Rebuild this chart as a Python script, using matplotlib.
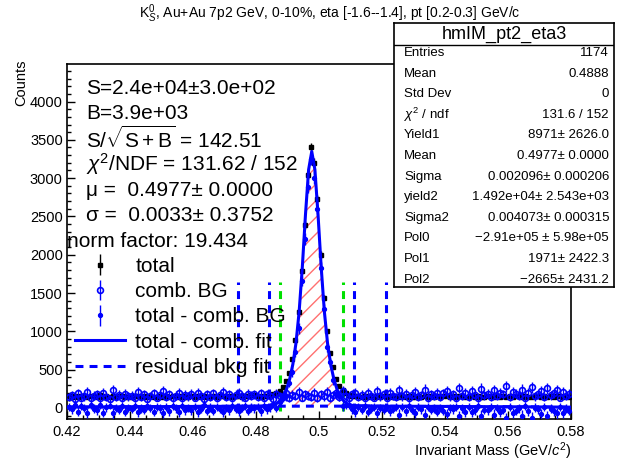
import numpy as np
import matplotlib
matplotlib.use('Agg')
import matplotlib.pyplot as plt

plt.rcParams['font.family'] = ['Liberation Sans', 'DejaVu Sans']
plt.rcParams['mathtext.fontset'] = 'custom'
plt.rcParams['mathtext.rm'] = 'Liberation Sans'
plt.rcParams['mathtext.it'] = 'Liberation Sans:italic'
plt.rcParams['mathtext.sf'] = 'Liberation Sans'

# histogram binning: 160 bins of 1 MeV between 0.42 and 0.58
x_lo, x_hi, n_bins = 0.42, 0.58, 160

# "total" same-event counts per bin
total_counts = [
    152, 147, 160, 141, 155, 149, 138, 158, 150, 144, 162, 139, 151, 146, 157, 143, 149, 154, 136, 148,
    145, 159, 150, 137, 152, 148, 155, 141, 146, 160, 143, 151, 138, 149, 156, 144, 152, 140, 147, 158,
    142, 150, 146, 155, 139, 148, 153, 144, 151, 157, 140, 149, 145, 161, 152, 147, 158, 150, 163, 171,
    156, 148, 160, 158, 170, 175, 190, 225, 270, 350, 455, 640, 880, 1250, 1790, 2390, 3040, 3400,
    3200, 2730, 2000, 1440, 1000, 720, 530, 375, 290, 235, 195, 172, 160, 150, 158, 143, 152, 147,
    149, 141, 155, 146, 152, 138, 157, 144, 150, 148, 159, 142, 153, 147, 139, 156, 145, 151, 143, 158,
    146, 152, 140, 155, 149, 144, 161, 137, 150, 153, 145, 148, 157, 141, 152, 146, 139, 154, 150, 143,
    156, 147, 151, 142, 158, 145, 149, 153, 140, 155, 148, 144, 152, 159, 141, 150, 146, 154, 143, 157,
    149, 138, 152, 147,
]

# normalised combinatorial (mixed-event) background per bin
comb_bg = [
    140, 165, 120, 190, 135, 150, 210, 125, 160, 175, 130, 200, 145, 115, 230, 140, 170, 125, 185, 150,
    160, 130, 205, 145, 175, 120, 155, 190, 135, 165, 215, 140, 180, 125, 160, 195, 130, 170, 150, 185,
    135, 200, 155, 120, 175, 145, 190, 130, 165, 210, 140, 180, 125, 170, 195, 150, 135, 185, 160, 175,
    145, 190, 130, 175, 160, 120, 185, 150, 140, 200, 125, 170, 155, 210, 135, 180, 160, 145, 195, 130,
    175, 150, 205, 125, 165, 190, 140, 215, 155, 130, 180, 200, 145, 170, 125, 195, 160, 135, 220, 150,
    175, 130, 200, 160, 140, 235, 150, 185, 125, 170, 210, 145, 165, 240, 130, 180, 155, 200, 140, 190,
    225, 150, 175, 130, 260, 160, 195, 140, 215, 170, 125, 250, 165, 185, 140, 230, 155, 200, 175, 280,
    145, 210, 185, 160, 240, 130, 195, 270, 150, 175, 220, 140, 255, 165, 190, 230, 135, 205, 160, 185,
]
norm_factor = 19.434

# fit of total - comb. BG (double gaussian + pol2)
fit_x = [0.420, 0.440, 0.460, 0.480,
         0.4847, 0.4857, 0.4867, 0.4877, 0.4887, 0.4897, 0.4907, 0.4917, 0.4927,
         0.4937, 0.4947, 0.4957, 0.4967, 0.4977, 0.4987, 0.4997, 0.5007, 0.5017,
         0.5027, 0.5037, 0.5047, 0.5057, 0.5067, 0.5077, 0.5087, 0.5097, 0.5107,
         0.520, 0.540, 0.560, 0.580]
fit_y = [10, 15, 19, 22,
         31, 42, 62, 98, 155, 245, 378, 570, 848,
         1259, 1835, 2519, 3110, 3348, 3110, 2519, 1835, 1259,
         848, 570, 378, 245, 155, 98, 62, 42, 31,
         22, 19, 15, 10]

# residual background (pol2 part)
bkg_x = [0.42, 0.44, 0.46, 0.48, 0.50, 0.52, 0.54, 0.56, 0.58]
bkg_y = [10, 15, 19, 22, 23, 22, 19, 15, 10]

signal_lines = [0.4877, 0.5077]
sideband_lines = [0.4742, 0.4842, 0.5112, 0.5212]
marker_line_top = 1650

stat_rows = [
    ('Entries', '1174'),
    ('Mean', '0.4888'),
    ('Std Dev', '0'),
    (r'$\chi^{2}$ / ndf', '131.6 / 152'),
    ('Yield1', '8971\u00b1 2626.0'),
    ('Mean', '0.4977\u00b1 0.0000'),
    ('Sigma', '0.002096\u00b1 0.000206'),
    ('yield2', '1.492e+04\u00b1 2.543e+03'),
    ('Sigma2', '0.004073\u00b1 0.000315'),
    ('Pol0', '\u22122.91e+05 \u00b1 5.98e+05'),
    ('Pol1', '1971\u00b1 2422.3'),
    ('Pol2', '\u22122665\u00b1 2431.2'),
]

fit_text = [
    'S=2.4e+04\u00b13.0e+02',
    'B=3.9e+03',
    r'S/$\sqrt{\mathrm{S+B}}$ = 142.51',
    r'$\chi^{2}$/NDF = 131.62 / 152',
    '\u03bc =  0.4977\u00b1 0.0000',
    '\u03c3 =  0.0033\u00b1 0.3752',
]

BLUE = '#0000ff'
W, H = 617, 461

fig = plt.figure(figsize=(W / 100, H / 100), dpi=100)
ax = fig.add_axes([67 / W, 1 - 419 / H, 504 / W, 355 / H])

centers = x_lo + (np.arange(n_bins) + 0.5) * (x_hi - x_lo) / n_bins
tot = np.array(total_counts, dtype=float)
bg = np.array(comb_bg, dtype=float)
sub = tot - bg
err_tot = np.sqrt(tot)
err_bg = np.sqrt(bg * norm_factor)
err_sub = np.sqrt(tot + bg * norm_factor)

# hatched signal region under the fit
fx = np.array(fit_x)
fy = np.array(fit_y)
win = (fx >= signal_lines[0] - 1e-6) & (fx <= signal_lines[1] + 1e-6)
ax.fill_between(fx[win], np.interp(fx[win], bkg_x, bkg_y), fy[win],
                facecolor='none', edgecolor='#ff7070', linewidth=0, hatch='//', zorder=1)

for xv in sideband_lines:
    ax.plot([xv, xv], [-40, marker_line_top], color=BLUE, lw=2.2, ls=(0, (2.6, 2.0)), zorder=2)
for xv in signal_lines:
    ax.plot([xv, xv], [-40, marker_line_top], color='#00e000', lw=2.2, ls=(0, (2.6, 2.0)), zorder=2)

h_tot = ax.errorbar(centers, tot, yerr=err_tot, fmt='s', color='black', ms=2.6,
                    elinewidth=1, capsize=0, zorder=3)
h_bg = ax.errorbar(centers, bg, yerr=err_bg, fmt='o', color=BLUE, mfc='none', ms=4.2,
                   mew=1.2, elinewidth=1, capsize=0, zorder=4)
h_sub = ax.errorbar(centers, sub, yerr=err_sub, fmt='o', color=BLUE, ms=2.8,
                    elinewidth=1, capsize=0, zorder=5)
h_bkg, = ax.plot(bkg_x, bkg_y, color=BLUE, lw=2.2, ls=(0, (2.6, 2.0)), zorder=6)
h_fit, = ax.plot(fit_x, fit_y, color=BLUE, lw=2.2, zorder=7)

ax.set_xlim(x_lo, x_hi)
ax.set_ylim(-145, 4490)
ax.set_xticks(np.arange(0.42, 0.5801, 0.02))
ax.set_xticklabels(['0.42', '0.44', '0.46', '0.48', '0.5', '0.52', '0.54', '0.56', '0.58'])
ax.set_xticks(np.arange(0.42, 0.5801, 0.005), minor=True)
ax.set_yticks(np.arange(0, 4001, 500))
ax.set_yticks(np.arange(-100, 4401, 100), minor=True)
ax.tick_params(which='both', direction='in', labelsize=10.5)
ax.tick_params(which='major', length=6, width=1)
ax.tick_params(which='minor', length=3, width=1)
ax.tick_params(axis='x', pad=4)
ax.tick_params(axis='y', pad=3)
for s in ax.spines.values():
    s.set_linewidth(1.2)

# fit results text
for i, line in enumerate(fit_text):
    fig.text(86 / W, 1 - (88 + 25.5 * i) / H, line, fontsize=15, va='center', ha='left')
fig.text(67 / W, 1 - 241 / H, 'norm factor: 19.434', fontsize=15, va='center', ha='left')

leg = ax.legend([h_tot, h_bg, h_sub, h_fit, h_bkg],
                ['total', 'comb. BG', 'total - comb. BG', 'total - comb. fit', 'residual bkg fit'],
                loc='upper left', bbox_to_anchor=(75 / W, 1 - 257 / H), bbox_transform=fig.transFigure,
                frameon=False, fontsize=15, borderpad=0, borderaxespad=0, handlelength=2.4,
                handletextpad=0.5, labelspacing=0.3, numpoints=1)

# titles and axis labels
fig.text(330 / W, 1 - 14 / H,
         r'K$^{0}_{S}$, Au+Au 7p2 GeV, 0-10%, eta [-1.6--1.4], pt [0.2-0.3] GeV/c',
         fontsize=10, ha='center', va='center')
fig.text(21 / W, 1 - 60 / H, 'Counts', rotation=90, fontsize=10.5, ha='center', va='top')
fig.text(571 / W, 1 - 451 / H, r'Invariant Mass (GeV/$c^{2}$)', fontsize=10.5, ha='right', va='center')

# statistics box
sb = fig.add_axes([394 / W, 1 - 287 / H, 220 / W, 264 / H], zorder=20)
sb.set_xticks([])
sb.set_yticks([])
sb.set_xlim(0, 220)
sb.set_ylim(287, 23)
sb.set_facecolor('white')
for s in sb.spines.values():
    s.set_linewidth(1.2)
sb.axhline(45, color='black', lw=1)
sb.text(110, 34, 'hmIM_pt2_eta3', fontsize=13, ha='center', va='center')
for i, (lab, val) in enumerate(stat_rows):
    y = 53 + 20.6 * i
    sb.text(10, y, lab, fontsize=9.5, ha='left', va='center')
    sb.text(215, y, val, fontsize=9.5, ha='right', va='center')

fig.savefig('out.png', dpi=100)
